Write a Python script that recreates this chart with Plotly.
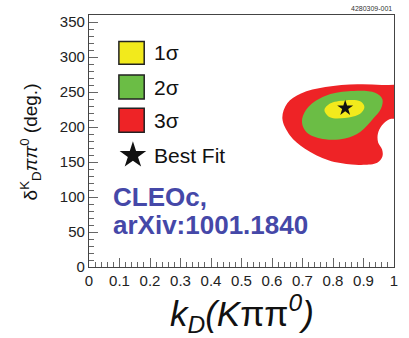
import plotly.graph_objects as go

# ---- data ----
red_k = [0.634, 0.650, 0.695, 0.775, 0.880, 0.960, 1.03, 1.03, 0.985, 0.960, 0.947, 0.948, 0.961, 0.962, 0.945, 0.900, 0.861, 0.785, 0.708, 0.659, 0.634]
red_d = [212, 234, 248, 257, 261, 260, 257, 214, 211, 202, 190, 178, 168, 158, 149, 146, 146.3, 152.4, 169, 188, 212]
green_k = [0.699, 0.719, 0.774, 0.850, 0.938, 0.962, 0.957, 0.932, 0.889, 0.839, 0.774, 0.719, 0.702, 0.699]
green_d = [212, 228.6, 244.3, 251, 249, 239.6, 226, 212, 193, 183.4, 182.4, 190.5, 200, 212]
yellow_k = [0.772, 0.790, 0.839, 0.889, 0.903, 0.889, 0.839, 0.790, 0.772]
yellow_d = [224, 233.4, 238, 236.7, 228.6, 219, 213, 214, 224]
best_k = [0.840]
best_d = [227]

x_ticks = [0, 0.1, 0.2, 0.3, 0.4, 0.5, 0.6, 0.7, 0.8, 0.9, 1]
x_ticklabels = ["0", "0.1", "0.2", "0.3", "0.4", "0.5", "0.6", "0.7", "0.8", "0.9", "1"]
y_ticks = [0, 50, 100, 150, 200, 250, 300, 350]

legend_labels = ["1σ", "2σ", "3σ"]
legend_colors = ["#f2ea1c", "#6bbd45", "#ee2326"]

FONT = "Liberation Sans, Arial, Helvetica, sans-serif"

fig = go.Figure()
for xs, ys, col in [(red_k, red_d, legend_colors[2]),
                    (green_k, green_d, legend_colors[1]),
                    (yellow_k, yellow_d, legend_colors[0])]:
    fig.add_trace(go.Scatter(x=xs, y=ys, mode="lines", fill="toself",
                             fillcolor=col, line=dict(width=0, color=col, shape="spline", smoothing=1.0),
                             hoverinfo="skip", showlegend=False))
fig.add_trace(go.Scatter(x=best_k, y=best_d, mode="markers",
                         marker=dict(symbol="star", size=12, color="#111111"),
                         showlegend=False))

# legend drawn by hand
box_x0, box_x1 = 0.098, 0.181
box_y = [(289.6, 322.0), (240.0, 274.3), (192.4, 226.7)]
for (y0, y1), col, lab in zip(box_y, legend_colors, legend_labels):
    fig.add_shape(type="rect", xref="x", yref="y", x0=box_x0, x1=box_x1, y0=y0, y1=y1,
                  fillcolor=col, line=dict(color="#222222", width=1.5))
    fig.add_annotation(x=0.205, y=(y0 + y1) / 2, xref="x", yref="y", text=lab,
                       showarrow=False, xanchor="left", yanchor="middle",
                       font=dict(family=FONT, size=21, color="#111111"))
fig.add_trace(go.Scatter(x=[0.144], y=[159.6], mode="markers",
                         marker=dict(symbol="star", size=20, color="#111111"),
                         showlegend=False, hoverinfo="skip"))
fig.add_annotation(x=0.205, y=159.6, xref="x", yref="y", text="Best Fit",
                   showarrow=False, xanchor="left", yanchor="middle",
                   font=dict(family=FONT, size=21, color="#111111"))

# CLEOc label
for txt, yy in [("<b>CLEOc,</b>", 100), ("<b>arXiv:1001.1840</b>", 59.6)]:
    fig.add_annotation(x=0.072, y=yy, xref="x", yref="y", text=txt, showarrow=False,
                       xanchor="left", yanchor="middle",
                       font=dict(family=FONT, size=26, color="#4548a8"))

# axis titles
fig.add_annotation(x=-0.193, y=0.495, xref="paper", yref="paper",
                   text="δ<sup>K</sup><sub>D</sub><i>ππ</i><sup>0</sup> (deg.)", textangle=-90,
                   showarrow=False, xanchor="center", yanchor="middle",
                   font=dict(family=FONT, size=19, color="#111111"))
fig.add_annotation(x=0.5, y=-0.183, xref="paper", yref="paper",
                   text="<i>k<sub>D</sub>(K</i>ππ<i><sup>0</sup>)</i>",
                   showarrow=False, xanchor="center", yanchor="middle",
                   font=dict(family=FONT, size=35, color="#111111"))
fig.add_annotation(x=1.0, y=1.0, xref="paper", yref="paper", text="4280309-001",
                   showarrow=False, xanchor="right", yanchor="bottom", yshift=1,
                   font=dict(family=FONT, size=7, color="#333333"))

axis_common = dict(showgrid=False, zeroline=False, showline=True, mirror=True,
                   linecolor="#444444", linewidth=1.2,
                   ticks="inside", ticklen=9, tickcolor="#666666", tickwidth=1,
                   tickfont=dict(family=FONT, size=15, color="#222222"))
fig.update_xaxes(range=[0, 1], tickvals=x_ticks, ticktext=x_ticklabels,
                 minor=dict(ticks="inside", ticklen=5, dtick=0.02, tickcolor="#666666"),
                 **axis_common)
fig.update_yaxes(range=[0, 360], tickvals=y_ticks,
                 minor=dict(ticks="inside", ticklen=5, dtick=10, tickcolor="#666666"),
                 **axis_common)

fig.update_layout(width=409, height=338, margin=dict(l=89, r=15, t=15, b=71),
                  plot_bgcolor="white", paper_bgcolor="white", showlegend=False)
fig.write_html("out.html")
